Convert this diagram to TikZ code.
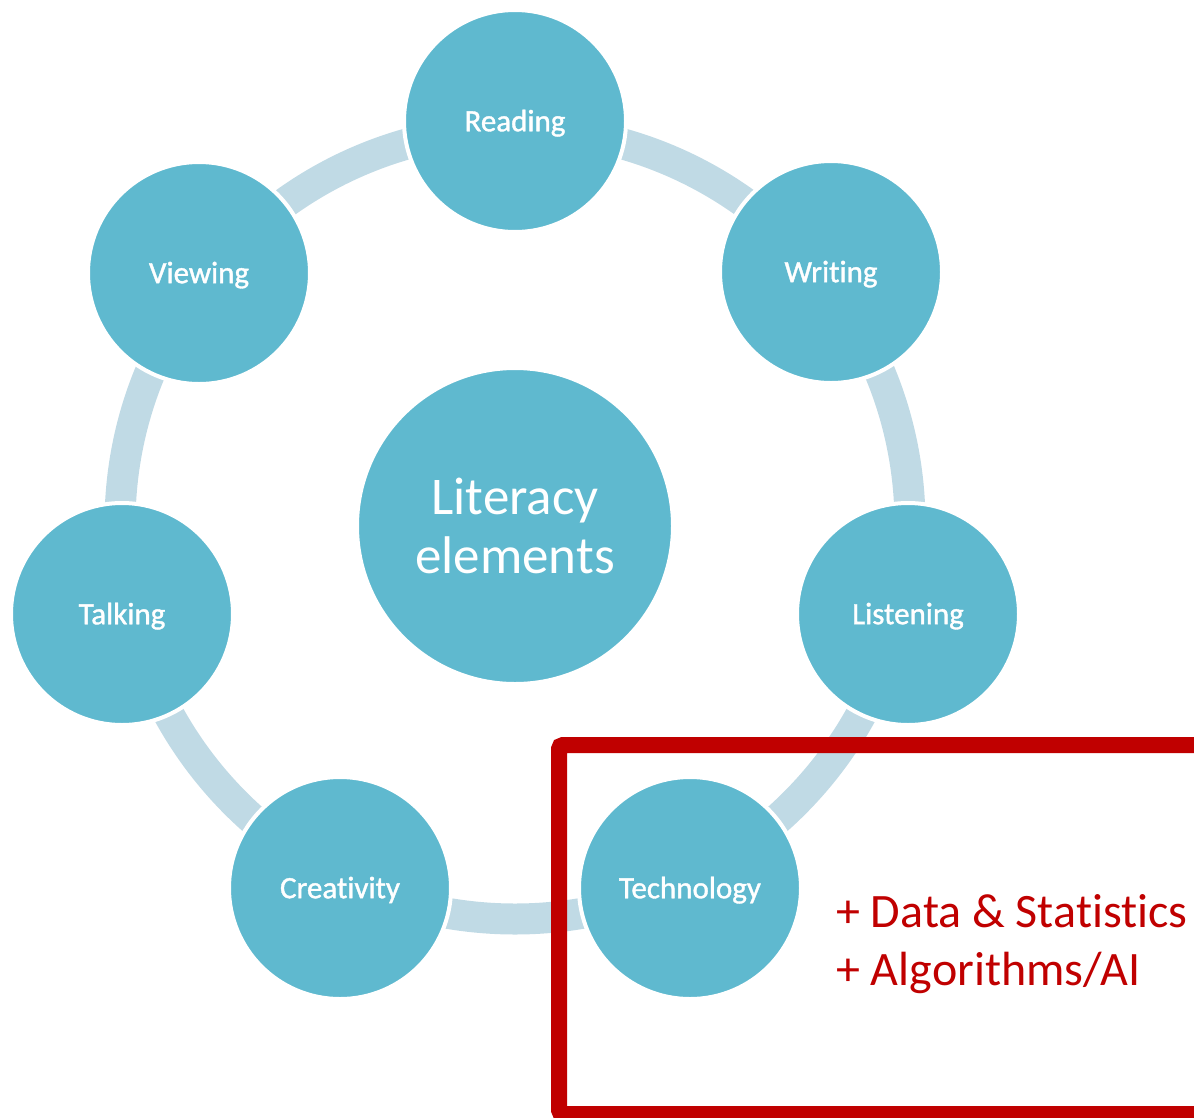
\documentclass[tikz,border=0pt]{standalone}
\usepackage{fontspec}
\setmainfont{Carlito}[Ligatures=CommonOff]
\newfontfamily\lblfont{Carlito}[Ligatures=CommonOff,FakeBold=1.2]
\definecolor{nodeblue}{HTML}{5FB9CF}
\definecolor{ringblue}{HTML}{C0DAE5}
\definecolor{boxred}{HTML}{C00000}
\tikzset{
  elem/.style={circle, fill=nodeblue, draw=white, line width=4pt, minimum size=222pt, inner sep=0pt,
    text=white, font=\lblfont\fontsize{31}{37}\selectfont, text depth=1pt},
  hub/.style={circle, fill=nodeblue, draw=white, line width=4pt, minimum size=316pt, inner sep=0pt,
    text=white, align=center, font=\fontsize{53}{59}\selectfont},
  ring/.style={draw=ringblue, line width=31pt},
  redbox/.style={draw=boxred, line width=16pt, rounded corners=4pt},
  note/.style={text=boxred, anchor=base west, inner sep=0pt, font=\fontsize{48}{58}\selectfont}
}
\begin{document}
\begin{tikzpicture}[x=1pt,y=-1pt]
\useasboundingbox (0,0) rectangle (1194,1117);
\clip (0,0) rectangle (1194,1117);
\coordinate (ctr) at (515,524);
\draw[ring] (ctr) circle[radius=395];
\node[hub] (lit) at (515,526) {Literacy\\elements};
\node[elem] (reading) at (515,121) {Reading};
\node[elem] (writing) at (831,272) {Writing};
\node[elem] (listening) at (908,614) {Listening};
\node[elem] (technology) at (690,888) {Technology};
\node[elem] (creativity) at (340,888) {Creativity};
\node[elem] (talking) at (122,614) {Talking};
\node[elem] (viewing) at (199,273) {Viewing};
\coordinate (boxtl) at (559,745);
\coordinate (boxbr) at (1220,1114);
\draw[redbox] (boxtl) rectangle (boxbr);
\node[note] (data) at (836,927) {+ Data \& Statistics};
\node[note] (algo) at (836,985) {+ Algorithms/AI};
\end{tikzpicture}
\end{document}
